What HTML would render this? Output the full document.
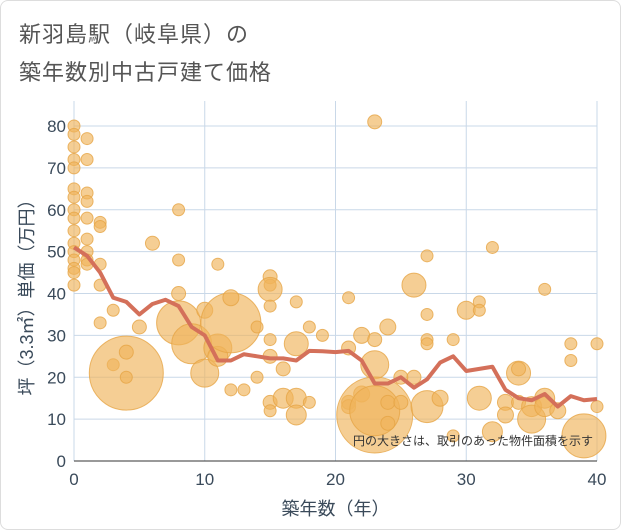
<!DOCTYPE html>
<html><head><meta charset="utf-8">
<style>
body{margin:0;background:#fff;font-family:"Liberation Sans","Noto Sans CJK JP",sans-serif;}
#card{position:absolute;left:0;top:0;width:619px;height:528px;border:1px solid #ddd;border-radius:8px;background:#fff;}
.title{position:absolute;left:18px;font-size:22px;color:#555;letter-spacing:1px;}
</style></head>
<body>
<div id="card">
<div class="title" style="top:16px">新羽島駅（岐阜県）の</div>
<div class="title" style="top:54px">築年数別中古戸建て価格</div>
<svg id="chart" width="621" height="530" style="position:absolute;left:0;top:0"></svg>
</div>
<script>
const xTicks=[0,10,20,30,40];
const yTicks=[0,10,20,30,40,50,60,70,80];
const lineYears=[0,1,2,3,4,5,6,7,8,9,10,11,12,13,14,15,16,17,18,19,20,21,22,23,24,25,26,27,28,29,30,31,32,33,34,35,36,37,38,39,40];
const linePrices=[51,49,45,39,38,35,37.5,38.5,37,32,30,24,24,25.5,25,24.5,24.5,24,26.3,26.2,26,26.3,24,18.5,18.5,20,17.5,19.5,23.5,25,21.5,22,22.5,17,15,14.5,16,13,15.5,14.5,14.8];
const bubbleYears=[0,0,0,0,0,0,0,0,0,0,0,0,0,0,0,0,1,1,1,1,1,1,1,1,1,2,2,2,2,2,3,3,4,4,4,5,6,8,8,8,8,9,10,10,11,11,11,12,12,12,13,14,14,15,15,15,15,15,15,15,15,16,16,17,17,17,17,18,18,19,21,21,21,21,22,22,23,23,23,23,23,24,24,24,25,25,26,26,27,27,27,27,27,28,29,29,30,31,31,31,32,32,33,33,34,34,34,35,35,36,36,36,37,38,38,39,40,40];
const bubblePrices=[80,78,75,72,70,65,63,60,58,55,52,50,48,46,45,42,77,72,64,62,58,53,50,48,47,57,56,47,42,33,36,23,21,26,20,32,52,60,48,40,33,28,21,36,47,27,25,33,39,17,17,20,32,44,42,41,37,29,25,14,12,22,15,38,28,15,11,32,14,30,39,27,14,13,30,16,81,29,23,11,12,32,14,9,20,14,42,20,49,35,29,28,13,15,29,6,36,38,36,15,51,7,14,11,21,22,14,13,10,41,15,13,12,28,24,6,28,13];
const bubbleSizes=[6,6,6,6,6,6,6,6,6,6,6,6,6,6,6,6,6,6,6,6,6,6,6,6,6,6,6,6,6,6,6,6,37,7,6,7,7,6,6,7,22,20,14,8,6,14,10,30,8,6,6,6,6,7,6,12,6,6,7,7,6,7,10,6,12,10,10,6,6,6,6,7,7,7,8,8,7,7,14,38,25,8,7,7,7,7,12,7,6,6,6,6,16,8,6,6,9,6,6,12,6,10,8,8,12,7,7,10,14,6,10,10,8,6,6,22,6,6];
const X0=73,X1=596,Y0=460,Y1=125;
const sx=v=>X0+(v-0)/40*(X1-X0);
const sy=v=>Y0-(v-0)/80*(Y0-Y1);
const svg=document.getElementById('chart');
const NS='http://www.w3.org/2000/svg';
function mk(t,a){const e=document.createElementNS(NS,t);for(const k in a)e.setAttribute(k,a[k]);svg.appendChild(e);return e;}
const bg=mk('rect',{x:X0,y:Y1-25,width:X1-X0,height:Y0-Y1+25,fill:'#fff'});


xTicks.forEach(t=>{const l=mk('line',{x1:sx(t),x2:sx(t),y1:Y1-25,y2:Y0,stroke:'#c9d8e8','stroke-width':1});


const tx=mk('text',{x:sx(t),y:Y0+24,'text-anchor':'middle','font-size':17,fill:'#3a4a5a'});tx.textContent=t;

});
yTicks.forEach(t=>{const l=mk('line',{x1:X0,x2:X1,y1:sy(t),y2:sy(t),stroke:'#c9d8e8','stroke-width':1});


const tx=mk('text',{x:X0-8,y:sy(t)+6,'text-anchor':'end','font-size':17,fill:'#3a4a5a'});tx.textContent=t;

});
bubbleYears.forEach((yr,i)=>{const c=mk('circle',{cx:sx(yr),cy:sy(bubblePrices[i]),r:bubbleSizes[i],fill:'rgba(240,180,90,0.65)',stroke:'rgba(230,165,70,0.8)','stroke-width':1});

});
const pl=mk('polyline',{points:lineYears.map((y,i)=>sx(y)+','+sy(linePrices[i])).join(' '),fill:'none',stroke:'#d4705a','stroke-width':4,'stroke-linejoin':'round'});


const ax=mk('line',{x1:X0,x2:X1,y1:Y0,y2:Y0,stroke:'#333','stroke-width':1});


const note=mk('text',{x:592,y:444,'text-anchor':'end','font-size':12,fill:'#333'});note.textContent='円の大きさは、取引のあった物件面積を示す';


const xt=mk('text',{x:(X0+X1)/2,y:514,'text-anchor':'middle','font-size':18,fill:'#3a4a5a'});xt.textContent='築年数（年）';


const yt=mk('text',{x:0,y:0,'text-anchor':'middle','font-size':18,fill:'#3a4a5a',transform:'translate(32,292) rotate(-90)'});yt.textContent='坪（3.3㎡）単価（万円）';


</script>
</body></html>
